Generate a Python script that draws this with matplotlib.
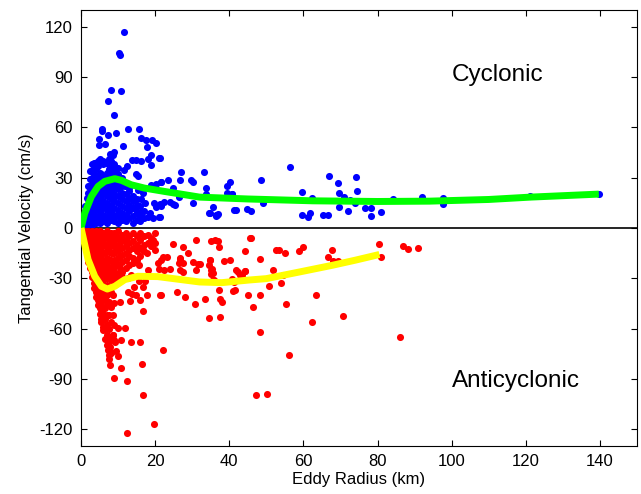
import numpy as np
import matplotlib
matplotlib.use("Agg")
import matplotlib.pyplot as plt

plt.rcParams['font.family'] = ['Liberation Sans', 'DejaVu Sans']
plt.rcParams['axes.unicode_minus'] = False

# cyclonic eddies, dense core near the origin (radius km, velocity cm/s)
cyc_core = [
    (0.5, 2), (0.5, 5),
    (1, 1.5), (1, 4), (1, 7), (1, 10), (1, 13),
    (1.5, 3), (1.5, 8), (1.5, 13), (1.5, 18),
    (2, 2), (2, 5), (2, 9), (2, 13), (2, 17), (2, 21), (2, 25),
    (2.5, 3), (2.5, 7), (2.5, 11), (2.5, 15), (2.5, 19), (2.5, 24), (2.5, 29), (2.5, 34),
    (3, 2), (3, 6), (3, 10), (3, 14), (3, 18), (3, 22), (3, 26), (3, 30), (3, 34), (3, 38),
    (3.5, 4), (3.5, 8), (3.5, 12), (3.5, 16), (3.5, 20), (3.5, 24), (3.5, 28), (3.5, 32), (3.5, 36), (3.5, 39),
    (4, 3), (4, 7), (4, 11), (4, 15), (4, 19), (4, 23), (4, 27), (4, 31), (4, 35), (4, 39),
    (4.5, 5), (4.5, 13), (4.5, 21), (4.5, 29), (4.5, 37), (4.5, 40),
    (5, 3), (5, 6), (5, 10), (5, 14), (5, 18), (5, 22), (5, 26), (5, 30), (5, 33), (5, 39), (5, 41),
    (5.5, 8), (5.5, 17), (5.5, 25), (5.5, 32), (5.5, 40),
    (6, 4), (6, 8), (6, 12), (6, 16), (6, 20), (6, 24), (6, 28), (6, 31), (6, 38), (6, 40),
    (6.5, 6), (6.5, 14), (6.5, 22), (6.5, 29), (6.5, 39),
    (7, 3), (7, 7), (7, 11), (7, 15), (7, 19), (7, 23), (7, 27), (7, 30), (7, 33), (7, 39),
    (7.5, 5), (7.5, 13), (7.5, 21), (7.5, 28), (7.5, 35), (7.5, 41),
    (8, 5), (8, 9), (8, 13), (8, 17), (8, 21), (8, 25), (8, 29), (8, 33), (8, 36), (8, 40),
    (8.5, 7), (8.5, 18), (8.5, 27), (8.5, 37),
    (9, 4), (9, 8), (9, 12), (9, 16), (9, 20), (9, 24), (9, 31), (9, 34), (9, 38),
    (10, 3), (10, 7), (10, 11), (10, 15), (10, 19), (10, 23), (10, 27), (10, 32), (10, 36),
    (11, 5), (11, 9), (11, 13), (11, 17), (11, 21), (11, 25), (11, 30),
    (12, 4), (12, 8), (12, 12), (12, 16), (12, 20), (12, 27),
    (13, 6), (13, 10), (13, 14), (13, 18), (13, 22),
    (14, 3), (14, 7), (14, 12), (14, 16), (14, 19),
    (15, 5), (15, 9), (15, 14), (15, 17),
    (16, 4), (16, 8), (16, 13),
    (17, 6), (17, 10),
]

# cyclonic eddies, scattered points
cyc_outer = [
    (11.7, 116.6), (10.3, 104.2), (10.5, 103.2), (8.2, 82.4), (10.9, 81.6),
    (7.4, 75.8), (8.9, 67.2), (5.7, 59), (5.7, 58), (12.6, 59), (15.7, 58.8),
    (7.4, 55.6), (9.4, 56.4), (4.9, 52.8), (4.8, 49.2), (6.5, 49.8), (11.3, 48.8),
    (16.2, 53.4), (17.4, 52.4), (19.2, 52.4), (20.2, 50.4), (17.7, 48.4),
    (7.7, 44.4), (9, 45.6), (8.6, 43.4), (19, 43.4), (18, 41.2), (13.7, 40.8),
    (14.9, 40.6), (16.2, 40.2), (21, 42), (18.8, 37.4), (12.4, 37.2), (14.8, 32.4),
    (15.3, 31.2), (11.6, 34.4), (19, 25.8), (20.1, 26), (21.5, 27.2), (23.5, 28.8),
    (26.9, 33.2), (26.7, 28.4), (29.8, 28.8), (30.2, 27.2), (21.3, 41.8), (21.7, 27.2),
    (24.7, 24), (24, 15.6), (24.9, 14.4), (25.4, 14), (26.5, 18.4), (30.3, 14.6),
    (21.7, 13.2), (21.3, 6.4), (22.4, 15.2), (18.6, 8.8), (18, 6.4), (19.4, 6),
    (21.1, 6.8), (19.6, 14.8), (21.4, 14.4), (20.1, 12.8), (16.3, 17.4), (17.2, 14.8),
    (14.6, 11.6), (15.9, 9.8), (15.3, 22.8), (16.7, 20.8), (11.8, 24.8), (13, 23.6),
    (11.5, 6.8), (9.9, 7.2),
    (33.3, 33.2), (33.7, 24), (33.8, 20.2), (35.5, 12.8), (34.5, 8.8), (36.3, 7.4),
    (36.8, 8), (39.4, 24.8), (40.1, 27.2), (39.3, 20.6), (40.7, 20), (41.2, 10.8),
    (41.8, 10.6), (44.9, 11.2), (45.8, 10.2), (48.6, 28.4), (49.2, 14.8), (56.4, 36.4),
    (59.7, 21.6), (59.6, 8), (61.2, 6.4), (61.8, 8.8), (62.4, 18), (65.2, 7.8),
    (66.5, 7.6), (66.9, 31), (69.3, 26.6), (69.6, 20.6), (71, 18.4), (69.6, 12.8),
    (72.1, 10.2), (72.6, 16.8), (74.2, 30.2), (74.4, 22), (74, 14.8), (76.5, 12.2),
    (78.3, 12.2), (78.3, 7.2), (80.9, 9.6), (84.2, 17.2), (92, 18.6), (97.6, 17.8),
    (97.7, 14.4), (121.2, 18.8), (139.7, 20),
    (34.7, 8.8), (36.5, 7.8), (37, 8.4), (40.8, 20.4),
]

# anticyclonic eddies, dense core near the origin
anti_core = [
    (0.5, -2), (0.5, -5),
    (1, -2), (1, -5), (1, -8), (1, -10),
    (1.5, -3), (1.5, -6), (1.5, -9), (1.5, -12), (1.5, -15),
    (2, -2), (2, -5), (2, -8), (2, -11), (2, -14), (2, -17), (2, -20),
    (2.5, -3), (2.5, -6), (2.5, -9), (2.5, -12), (2.5, -15), (2.5, -18), (2.5, -21), (2.5, -24),
    (3, -2), (3, -5), (3, -8), (3, -11), (3, -14), (3, -17), (3, -20), (3, -23), (3, -26), (3, -29),
    (3.5, -3), (3.5, -6), (3.5, -9), (3.5, -12), (3.5, -15), (3.5, -18), (3.5, -21), (3.5, -24),
    (3.5, -27), (3.5, -30), (3.5, -33), (3.5, -36),
    (4, -2), (4, -5), (4, -8), (4, -11), (4, -14), (4, -17), (4, -20), (4, -23), (4, -26),
    (4, -29), (4, -32), (4, -35), (4, -38), (4, -41),
    (4.5, -3), (4.5, -7), (4.5, -11), (4.5, -15), (4.5, -19), (4.5, -23), (4.5, -27),
    (4.5, -31), (4.5, -35), (4.5, -39), (4.5, -43), (4.5, -46),
    (5, -2), (5, -5), (5, -8), (5, -12), (5, -16), (5, -20), (5, -24), (5, -28), (5, -32),
    (5, -36), (5, -40), (5, -44), (5, -48), (5, -51),
    (5.5, -4), (5.5, -9), (5.5, -14), (5.5, -19), (5.5, -24), (5.5, -29), (5.5, -34),
    (5.5, -39), (5.5, -44), (5.5, -49), (5.5, -54), (5.5, -56),
    (6, -3), (6, -7), (6, -11), (6, -15), (6, -19), (6, -23), (6, -27), (6, -31), (6, -35),
    (6, -39), (6, -43), (6, -47), (6, -51), (6, -55), (6, -59), (6, -61),
    (6.5, -5), (6.5, -10), (6.5, -15), (6.5, -20), (6.5, -25), (6.5, -30), (6.5, -36),
    (6.5, -42), (6.5, -48), (6.5, -54), (6.5, -60), (6.5, -66),
    (7, -2), (7, -6), (7, -10), (7, -14), (7, -18), (7, -22), (7, -26), (7, -30), (7, -34),
    (7, -40), (7, -46), (7, -52), (7, -58), (7, -64), (7, -70),
    (7.5, -4), (7.5, -9), (7.5, -14), (7.5, -19), (7.5, -24), (7.5, -29), (7.5, -36),
    (7.5, -44), (7.5, -52), (7.5, -60), (7.5, -68), (7.5, -76),
    (7.3, -73), (7.6, -78), (7.9, -81.6), (7.8, -71), (8.2, -74.8), (8.6, -64), (9.1, -68),
    (8, -3), (8, -7), (8, -11), (8, -15), (8, -19), (8, -23), (8, -27), (8, -31), (8, -38),
    (8, -47), (8, -56), (8, -66), (8, -74),
    (8.5, -5), (8.5, -10), (8.5, -15), (8.5, -20), (8.5, -25), (8.5, -30), (8.5, -40),
    (8.5, -52), (8.5, -64),
    (9, -3), (9, -7), (9, -11), (9, -15), (9, -19), (9, -23), (9, -27), (9, -33), (9, -45),
    (9, -58), (9, -67),
    (9.5, -5), (9.5, -13), (9.5, -21), (9.5, -29),
    (10, -2), (10, -6), (10, -10), (10, -14), (10, -18), (10, -22), (10, -27), (10, -32),
    (10.5, -8), (10.5, -17), (10.5, -24),
    (11, -4), (11, -8), (11, -12), (11, -16), (11, -20), (11, -26), (11, -29),
    (12, -3), (12, -7), (12, -11), (12, -15), (12, -19), (12, -24),
    (13, -5), (13, -9), (13, -13), (13, -17), (13, -22),
    (14, -3), (14, -8), (14, -12), (14, -18), (14, -21),
    (15, -5), (15, -10), (15, -14), (15, -19),
    (16, -3), (16, -7), (16, -12), (16, -17),
    (17, -5), (17, -10), (17, -14),
    (18, -4), (18, -9), (19, -6), (19, -11), (20, -3), (20, -9),
]

# anticyclonic eddies, scattered points
anti_outer = [
    (12, -7), (19.3, -7), (18.6, -8.2), (24.7, -9.8), (31, -7), (27.5, -11.2),
    (28.8, -14.8), (19.9, -13.2), (16.8, -13.2), (17.7, -15.2), (22.2, -17.2),
    (23.1, -17.2), (26.7, -18.2), (20.7, -20.8), (21, -24.2), (22.4, -24.8), (24, -24.2),
    (18.2, -24.8), (15.7, -21.8), (13.6, -28.2), (12.6, -29.8), (15.6, -31.8),
    (17.2, -31.8), (14.4, -35.2), (16.8, -35.2), (12.7, -38.2), (13.8, -39.4),
    (14.8, -39.8), (17.7, -40.2), (21.4, -39.8), (13.2, -43.8), (15.9, -43.2),
    (10.5, -44.2), (16.8, -49.8), (9.9, -59.8), (11.8, -59.8), (10.9, -66.6),
    (13.6, -67.8), (16, -68.2), (22, -72.6), (9.5, -73.4), (10, -76.4), (16.4, -81.2),
    (10.9, -83.2), (8.9, -89.2), (12.3, -91.4), (16.7, -99.8), (19.6, -116.6),
    (12.3, -122.4), (21.5, -18.8),
    (35.2, -8), (36.1, -7.2), (37, -7.6), (37.2, -11.4), (44.2, -13.8), (45.5, -5.8),
    (26.7, -17.8), (26.5, -20.8), (27.5, -20.8), (30.2, -20.4), (31.6, -21.2),
    (34.7, -19.2), (34.5, -21.8), (38.5, -19.8), (40.1, -19.2), (26.7, -24.8),
    (27.5, -26.4), (31.1, -24.8), (35.2, -24.8), (35.6, -26.8), (41.9, -24.8),
    (42.8, -27.8), (44.2, -25.8), (35.6, -30.8), (40.6, -30.4), (41.2, -32.4),
    (37.2, -36.8), (41.5, -37.2), (21.5, -39.8), (25.9, -38.4), (28, -41.2),
    (33.4, -42.4), (37.4, -42.4), (37.9, -44.4), (30.7, -45.4), (45, -39.8),
    (45.8, -6.2), (48.2, -18.6), (52.5, -13.2), (53.3, -13.2), (55, -15.2), (58.7, -14),
    (59.9, -11.4), (66.6, -17.2), (67.6, -13), (67.9, -19.8), (69.4, -19.8),
    (80.5, -9.6), (81, -17.6), (86.9, -11), (88.2, -12.4), (90.8, -11.8),
    (51.8, -24.8), (54.5, -27.8), (53.9, -32.6), (50.6, -34.8), (48.4, -40.2),
    (46.3, -47.2), (55.4, -45.2), (63.3, -39.8), (62.3, -55.8), (70.7, -52.2),
    (48.3, -62.2), (56.2, -75.6), (86.1, -65), (47.1, -99.6), (50.3, -99.2),
    (41, -37.6), (34.5, -53.8), (37.6, -52.8), (32, -21.2), (34.8, -18.8),
    (35.4, -24.4), (35, -27.2), (35.8, -30.8), (42.4, -26.2), (43.3, -28.2), (44.3, -25.6),
]

# fitted mean curves
cyc_fit_r = [0, 1, 2.8, 4.6, 6.4, 9.1, 10.9, 13.5, 17.1, 22.5, 32, 45, 62.5, 80, 94, 110, 121.2, 139.7]
cyc_fit_v = [0, 8.8, 18.8, 24.8, 27.8, 29.4, 28.4, 25.8, 23.8, 21.8, 18.4, 17.3, 16.2, 15.8, 16, 17, 18.4, 20.2]
anti_fit_r = [0, 1.9, 3.7, 5.5, 7.1, 9.1, 11.8, 15.3, 20.7, 26, 32, 38, 45.5, 50, 59, 67.9, 74, 80.5]
anti_fit_v = [0, -18.8, -28.8, -34.8, -36.4, -34.8, -30.8, -28.8, -29, -30.5, -32.2, -32.6, -31,
              -30.2, -26.2, -22.2, -19.2, -15.8]

cyc = np.array(cyc_core + cyc_outer)
anti = np.array(anti_core + anti_outer)

fig = plt.figure(figsize=(6.41, 4.94), dpi=100)
ax = fig.add_axes([0.1264, 0.0972, 0.8674, 0.8826])

ax.axhline(0, color='black', linewidth=1.2, zorder=1)
ax.scatter(cyc[:, 0], cyc[:, 1], s=26, color='blue', linewidths=0, zorder=2)
ax.scatter(anti[:, 0], anti[:, 1], s=26, color='red', linewidths=0, zorder=2)
ax.plot(cyc_fit_r, cyc_fit_v, color='#00ff00', linewidth=5, zorder=3, solid_capstyle='butt')
ax.plot(anti_fit_r, anti_fit_v, color='yellow', linewidth=5, zorder=3, solid_capstyle='butt')

ax.text(100, 91, 'Cyclonic', fontsize=17.5, ha='left', va='center')
ax.text(100, -91, 'Anticyclonic', fontsize=17.5, ha='left', va='center')

ax.set_xlim(0, 150)
ax.set_ylim(-130, 130)
ax.set_xticks(range(0, 141, 20))
ax.set_yticks(range(-120, 121, 30))
ax.tick_params(direction='in', top=True, right=True, labelsize=12, length=4, pad=6)
ax.set_xlabel('Eddy Radius (km)', fontsize=12, labelpad=2)
ax.set_ylabel('Tangential Velocity (cm/s)', fontsize=12, labelpad=4)
for sp in ax.spines.values():
    sp.set_linewidth(0.8)

fig.savefig('out.png', dpi=100)
